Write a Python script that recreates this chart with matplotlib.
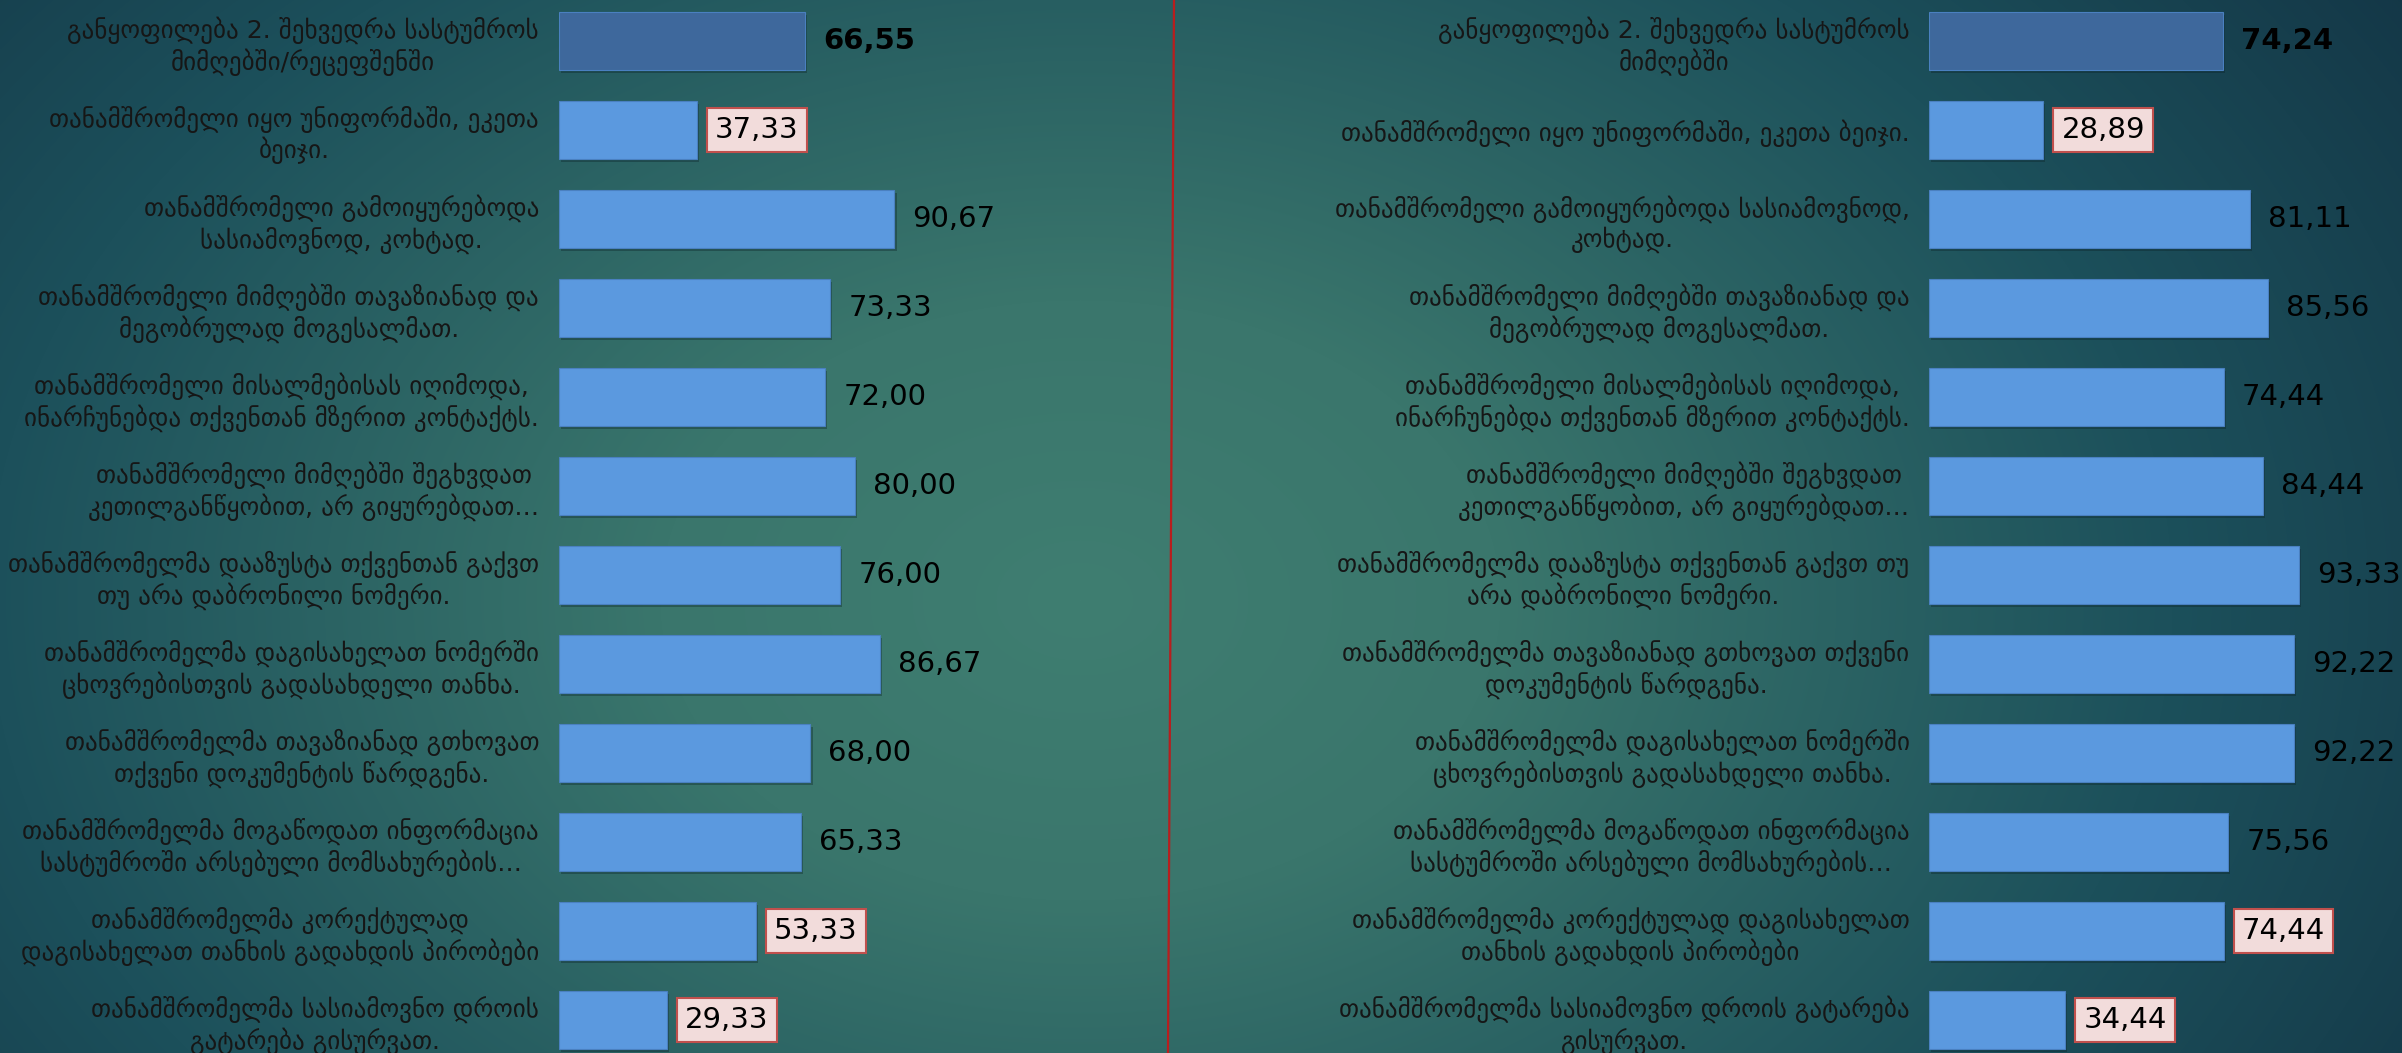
import numpy as np
import matplotlib
matplotlib.use("Agg")
import matplotlib.pyplot as plt
from matplotlib.colors import to_rgb
from matplotlib.lines import Line2D
import matplotlib.patheffects as pe

plt.rcParams['font.family'] = ['DejaVu Sans']

left_labels = [
    "განყოფილება 2. შეხვედრა სასტუმროს\nმიმღებში/რეცეფშენში",
    "თანამშრომელი იყო უნიფორმაში, ეკეთა\nბეიჯი.",
    "თანამშრომელი გამოიყურებოდა\nსასიამოვნოდ, კოხტად.",
    "თანამშრომელი მიმღებში თავაზიანად და\nმეგობრულად მოგესალმათ.",
    "თანამშრომელი მისალმებისას იღიმოდა,\nინარჩუნებდა თქვენთან მზერით კონტაქტს.",
    "თანამშრომელი მიმღებში შეგხვდათ\nკეთილგანწყობით, არ გიყურებდათ…",
    "თანამშრომელმა დააზუსტა თქვენთან გაქვთ\nთუ არა დაბრონილი ნომერი.",
    "თანამშრომელმა დაგისახელათ ნომერში\nცხოვრებისთვის გადასახდელი თანხა.",
    "თანამშრომელმა თავაზიანად გთხოვათ\nთქვენი დოკუმენტის წარდგენა.",
    "თანამშრომელმა მოგაწოდათ ინფორმაცია\nსასტუმროში არსებული მომსახურების…",
    "თანამშრომელმა კორექტულად\nდაგისახელათ თანხის გადახდის პირობები",
    "თანამშრომელმა სასიამოვნო დროის\nგატარება გისურვათ.",
]
left_values = [66.55, 37.33, 90.67, 73.33, 72.00, 80.00, 76.00, 86.67, 68.00, 65.33, 53.33, 29.33]

right_labels = [
    "განყოფილება 2. შეხვედრა სასტუმროს\nმიმღებში",
    "თანამშრომელი იყო უნიფორმაში, ეკეთა ბეიჯი.",
    "თანამშრომელი გამოიყურებოდა სასიამოვნოდ,\nკოხტად.",
    "თანამშრომელი მიმღებში თავაზიანად და\nმეგობრულად მოგესალმათ.",
    "თანამშრომელი მისალმებისას იღიმოდა,\nინარჩუნებდა თქვენთან მზერით კონტაქტს.",
    "თანამშრომელი მიმღებში შეგხვდათ\nკეთილგანწყობით, არ გიყურებდათ…",
    "თანამშრომელმა დააზუსტა თქვენთან გაქვთ თუ\nარა დაბრონილი ნომერი.",
    "თანამშრომელმა თავაზიანად გთხოვათ თქვენი\nდოკუმენტის წარდგენა.",
    "თანამშრომელმა დაგისახელათ ნომერში\nცხოვრებისთვის გადასახდელი თანხა.",
    "თანამშრომელმა მოგაწოდათ ინფორმაცია\nსასტუმროში არსებული მომსახურების…",
    "თანამშრომელმა კორექტულად დაგისახელათ\nთანხის გადახდის პირობები",
    "თანამშრომელმა სასიამოვნო დროის გატარება\nგისურვათ.",
]
right_values = [74.24, 28.89, 81.11, 85.56, 74.44, 84.44, 93.33, 92.22, 92.22, 75.56, 74.44, 34.44]

highlighted = [1, 10, 11]
summary_index = 0

W, H = 2402, 1053
fig = plt.figure(figsize=(W / 100, H / 100), dpi=100)

# background gradient
bg = fig.add_axes([0, 0, 1, 1], zorder=-10)
yy, xx = np.mgrid[0:H, 0:W]
cx, cy, rx, ry = 1080, 600, 1400, 1000
r = np.sqrt(((xx - cx) / rx) ** 2 + ((yy - cy) / ry) ** 2)
stops = [0.0, 0.3, 0.78, 1.2]
cols = [to_rgb(c) for c in ["#3f7e71", "#3a766c", "#1c505b", "#123243"]]
img = np.zeros((H, W, 3))
for k in range(3):
    img[..., k] = np.interp(r, stops, [c[k] for c in cols])
bg.imshow(img, aspect='auto', extent=[0, W, H, 0])
bg.set_xlim(0, W)
bg.set_ylim(H, 0)
bg.axis('off')

# divider line
fig.add_artist(Line2D([1174 / W, 1168 / W], [1, 0], color="#b81e1e", lw=1.6))

row0, pitch = 41, 89
ylim = ((H - row0) / pitch, -row0 / pitch)


def panel(x0_px, px_per_unit, labels, values):
    width_px = 100 * px_per_unit
    ax = fig.add_axes([x0_px / W, 0, width_px / W, 1])
    ax.set_facecolor("none")
    ax.set_xlim(0, 100)
    ax.set_ylim(*ylim)
    y = np.arange(len(values))
    colors = ["#3e689c" if i == summary_index else "#5b99df" for i in range(len(values))]
    bars = ax.barh(y, values, height=58 / pitch, color=colors,
                   edgecolor="#4a80c0", linewidth=0.8)
    for b in bars:
        b.set_path_effects([pe.SimplePatchShadow(offset=(1.5, -2.5), alpha=0.35, shadow_rgbFace="#0a2025"),
                            pe.Normal()])
    for sp in ax.spines.values():
        sp.set_visible(False)
    ax.set_xticks([])
    ax.set_yticks(y)
    ax.set_yticklabels(labels, fontsize=18, color="#161616", ma="center", linespacing=1.2)
    ax.tick_params(axis='y', length=0, pad=14)
    for i, v in enumerate(values):
        txt = f"{v:.2f}".replace(".", ",")
        kw = dict(fontsize=21, color="black", va="center", ha="left")
        if i == summary_index:
            ax.annotate(txt, (v, i), xytext=(13, 0), textcoords="offset points",
                        fontweight="bold", **kw)
        elif i in highlighted:
            ax.annotate(txt, (v, i), xytext=(13, 0), textcoords="offset points",
                        bbox=dict(boxstyle="square,pad=0.28", fc="#f2dcdb", ec="#c0504d", lw=1.5),
                        **kw)
        else:
            ax.annotate(txt, (v, i), xytext=(13, 0), textcoords="offset points", **kw)
    return ax


panel(558.5, 3.705, left_labels, left_values)
panel(1929, 3.96, right_labels, right_values)

fig.savefig("out.png", dpi=100)
